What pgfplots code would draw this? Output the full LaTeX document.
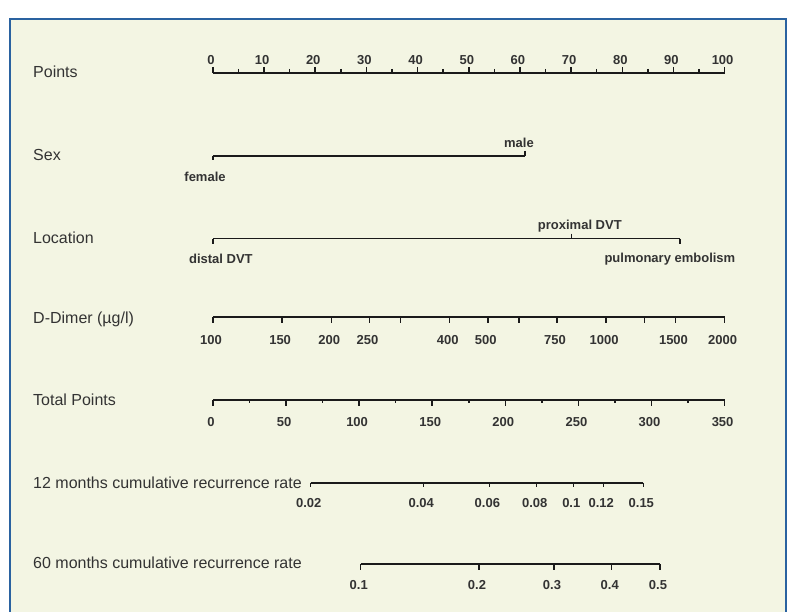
\documentclass[border=0pt]{standalone}
\usepackage{pgfplots}
\pgfplotsset{compat=1.18}
\usepackage{pgfplotstable}
\usepackage{fontspec}
\setmainfont{Liberation Sans}
\definecolor{cream}{HTML}{F3F5E3}
\definecolor{frameblue}{HTML}{2A62A0}
\definecolor{ink}{HTML}{1A1A1A}
\definecolor{txt}{HTML}{333333}

% Points scale (0-100)
\pgfplotstableread{
pos lab
0 0
10 10
20 20
30 30
40 40
50 50
60 60
70 70
80 80
90 90
100 100
}\ptsmaj
\pgfplotstableread{
pos kind
5 minor
15 minor
25 minor
35 minor
45 minor
55 minor
65 minor
75 minor
85 minor
95 minor
}\ptsmin
% Sex (points)
\pgfplotstableread{
pos lab
0 female
61 male
}\sexline
\pgfplotstableread[col sep=comma]{
lpos,ly,lab
-1.15,176.4,female
60.2,143,male
}\sexlab
% Location (points)
\pgfplotstableread[col sep=comma]{
pos,lab
0,distal DVT
70.1,proximal DVT
91.3,pulmonary embolism
}\locline
\pgfplotstableread[col sep=comma]{
lpos,ly,lab
1.95,259,distal DVT
72.1,225.7,proximal DVT
89.7,259,pulmonary embolism
}\loclab
% D-Dimer (points)
\pgfplotstableread{
pos lab
0 100
13.53 150
23.14 200
30.59 250
46.28 400
53.72 500
67.26 750
76.86 1000
90.40 1500
100 2000
}\ddlab
\pgfplotstableread{
pos value
0 100
13.53 150
23.14 200
30.59 250
36.67 300
46.28 400
53.72 500
59.81 600
67.26 750
76.86 1000
84.31 1250
90.40 1500
100 2000
}\ddtick
% Total points (0-350)
\pgfplotstableread{
pos lab
0 0
50 50
100 100
150 150
200 200
250 250
300 300
350 350
}\totmaj
\pgfplotstableread{
pos kind
25 minor
75 minor
125 minor
175 minor
225 minor
275 minor
325 minor
}\totmin
% 12 months rate (total points)
\pgfplotstableread{
pos lab
66.9 0.02
143.9 0.04
189.1 0.06
221.5 0.08
246.5 0.1
267.0 0.12
294.4 0.15
}\twelve
% 60 months rate (total points)
\pgfplotstableread{
pos lab
101.1 0.1
182.0 0.2
233.3 0.3
272.8 0.4
305.8 0.5
}\sixty

\pgfplotsset{
  nomline/.style={color=ink, line width=1.6pt, mark=none},
  nomtick/.style={color=ink, only marks, mark=|, mark size=#1, mark options={line width=1.5pt}},
  nomlab/.style={draw=none, mark=none, nodes near coords, point meta=explicit symbolic,
     every node near coord/.append style={font=\fontsize{13}{13}\selectfont\bfseries, text=txt, anchor=center, inner sep=0pt, xshift=-2pt}},
}
\newcommand{\PX}{212.9+5.117*\thisrow{pos}}
\newcommand{\TX}{212.9+1.462*\thisrow{pos}}

\begin{document}
\begin{tikzpicture}
\begin{axis}[
  width=792pt, height=612pt, scale only axis,
  xmin=0, xmax=792, ymin=0, ymax=612, y dir=reverse,
  hide axis, clip=true,
]
\addplot[draw=none, fill=white] coordinates {(0,0) (792,0) (792,612) (0,612) (0,0)};
\addplot[draw=none, fill=cream] coordinates {(10,19) (786,19) (786,612) (10,612) (10,19)};
\addplot[draw=frameblue, line width=2pt] coordinates {(10,612) (10,19) (786,19) (786,612)};

% Points
\addplot[nomline] table[x expr=\PX, y expr=72.9] {\ptsmaj};
\addplot[nomtick=3] table[x expr=\PX, y expr=69.9] {\ptsmaj};
\addplot[nomtick=2] table[x expr=\PX, y expr=70.9] {\ptsmin};
\addplot[nomlab] table[x expr=\PX, y expr=59.6, meta=lab] {\ptsmaj};

% Sex
\addplot[nomline] table[x expr=\PX, y expr=156] {\sexline};
\addplot[nomtick=2] table[x expr=\PX, y expr=158, skip coords between index={1}{2}] {\sexline};
\addplot[nomtick=2.5] table[x expr=\PX, y expr=153.5, skip coords between index={0}{1}] {\sexline};
\addplot[nomlab] table[x expr=212.9+5.117*\thisrow{lpos}, y=ly, meta=lab] {\sexlab};

% Location
\addplot[nomline] table[x expr=\PX, y expr=238.6] {\locline};
\addplot[nomtick=2.5] table[x expr=\PX, y expr=241.1, skip coords between index={1}{2}] {\locline};
\addplot[nomtick=2.5] table[x expr=\PX, y expr=236.1, skip coords between index={0}{1}, skip coords between index={2}{3}] {\locline};
\addplot[nomlab] table[x expr=212.9+5.117*\thisrow{lpos}, y=ly, meta=lab] {\loclab};

% D-Dimer
\addplot[nomline] table[x expr=\PX, y expr=317] {\ddtick};
\addplot[nomtick=2.85] table[x expr=\PX, y expr=319.85] {\ddtick};
\addplot[nomlab] table[x expr=\PX, y expr=340, meta=lab] {\ddlab};

% Total points
\addplot[nomline] table[x expr=\TX, y expr=400] {\totmaj};
\addplot[nomtick=3] table[x expr=\TX, y expr=403] {\totmaj};
\addplot[nomtick=1.5] table[x expr=\TX, y expr=401.5] {\totmin};
\addplot[nomlab] table[x expr=\TX, y expr=422.3, meta=lab] {\totmaj};

% 12 months
\addplot[nomline] table[x expr=\TX, y expr=482.7] {\twelve};
\addplot[nomtick=2.35] table[x expr=\TX, y expr=485.05] {\twelve};
\addplot[nomlab] table[x expr=\TX, y expr=502.8, meta=lab] {\twelve};

% 60 months
\addplot[nomline] table[x expr=\TX, y expr=564] {\sixty};
\addplot[nomtick=2.85] table[x expr=\TX, y expr=566.85] {\sixty};
\addplot[nomlab] table[x expr=\TX, y expr=584.7, meta=lab] {\sixty};

% Titles
\begin{scope}[every node/.style={anchor=west, font=\fontsize{16}{16}\selectfont, text=txt, inner sep=0pt}]
\node at (axis cs:33,72) {Points};
\node at (axis cs:33,155) {Sex};
\node at (axis cs:33,238) {Location};
\node at (axis cs:33,319) {D-Dimer (µg/l)};
\node at (axis cs:33,400) {Total Points};
\node at (axis cs:33,483) {12 months cumulative recurrence rate};
\node at (axis cs:33,563) {60 months cumulative recurrence rate};
\end{scope}
\end{axis}
\end{tikzpicture}
\end{document}
